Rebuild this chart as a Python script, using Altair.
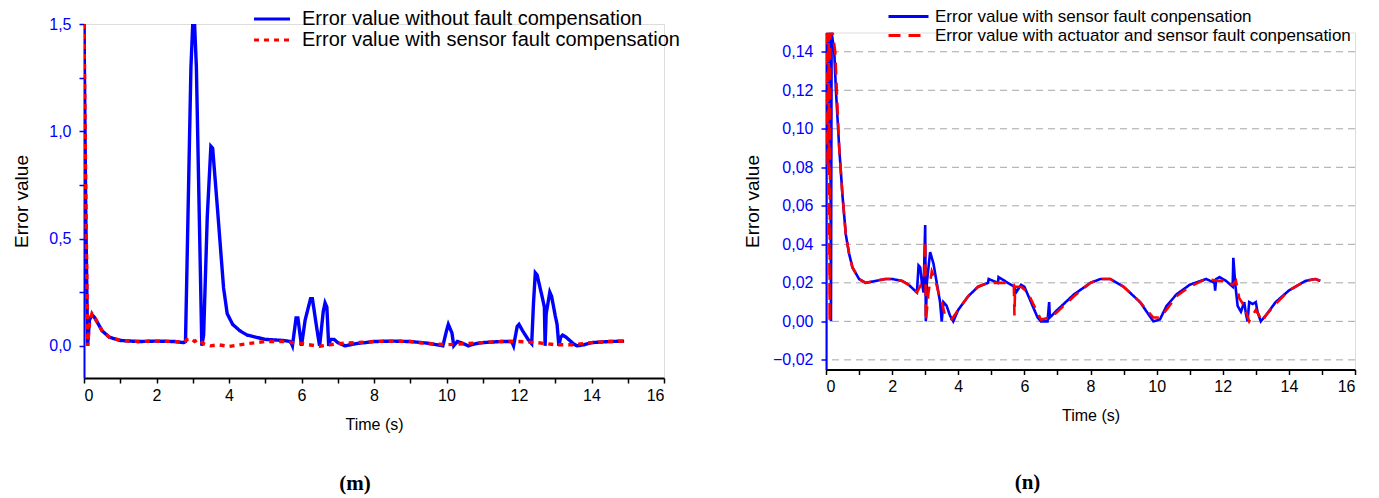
import altair as alt
import pandas as pd

# ---------------- Panel (m) ----------------
m_blue_t = [0.0, 0.05, 0.1, 0.15, 0.22, 0.3, 0.5, 0.7, 1.0, 1.5, 2.0, 2.5, 2.75, 2.8, 2.95, 3.0, 3.05, 3.1, 3.25,
            3.3, 3.4, 3.5, 3.55, 3.7, 3.85, 3.95, 4.1, 4.3, 4.5, 5.0, 5.5, 5.7, 5.75, 5.85, 5.9, 6.0, 6.1, 6.25,
            6.3, 6.45, 6.5, 6.6, 6.65, 6.7, 6.75, 6.8, 6.9, 7.0, 7.2, 7.5, 8.0, 8.5, 9.0, 9.5, 9.9, 10.0, 10.05,
            10.15, 10.2, 10.3, 10.4, 10.6, 10.8, 11.0, 11.5, 11.8, 11.85, 11.95, 12.0, 12.1, 12.25, 12.35, 12.4,
            12.45, 12.5, 12.65, 12.7, 12.72, 12.75, 12.85, 12.9, 13.0, 13.05, 13.1, 13.15, 13.2, 13.3, 13.5, 13.6,
            13.8, 14.0, 14.5, 14.9]
m_blue_v = [1.5, 0.6, 0.0, 0.12, 0.145, 0.13, 0.07, 0.04, 0.025, 0.02, 0.022, 0.02, 0.015, 0.02, 1.3, 1.5, 1.5,
            1.3, 0.0, 0.05, 0.6, 0.93, 0.92, 0.6, 0.27, 0.15, 0.1, 0.07, 0.05, 0.03, 0.025, 0.02, 0.0, 0.13, 0.13,
            0.0, 0.12, 0.22, 0.22, 0.05, 0.0, 0.16, 0.2, 0.18, 0.0, 0.03, 0.03, 0.015, 0.0, 0.01, 0.02, 0.022,
            0.02, 0.012, 0.0, 0.07, 0.1, 0.06, 0.0, 0.02, 0.015, 0.0, 0.01, 0.015, 0.02, 0.02, 0.0, 0.09, 0.1,
            0.07, 0.03, 0.01, 0.2, 0.34, 0.33, 0.22, 0.18, 0.0, 0.15, 0.25, 0.23, 0.14, 0.1, 0.0, 0.04, 0.05,
            0.04, 0.01, 0.0, 0.005, 0.015, 0.02, 0.022]
m_red_t = [0.0, 0.05, 0.1, 0.15, 0.22, 0.3, 0.5, 0.7, 1.0, 1.5, 2.0, 2.5, 2.75, 2.85, 2.95, 3.05, 3.15, 3.3, 3.5,
           3.7, 4.0, 4.5, 5.0, 5.5, 6.0, 6.5, 7.0, 7.5, 8.0, 8.5, 9.0, 9.5, 10.0, 10.5, 11.0, 11.5, 12.0, 12.5,
           13.0, 13.5, 14.0, 14.5, 14.9]
m_red_v = [1.5, 0.7, 0.0, 0.1, 0.15, 0.13, 0.07, 0.04, 0.025, 0.02, 0.022, 0.02, 0.015, 0.03, 0.035, 0.02, 0.03,
           0.01, 0.0, 0.005, -0.003, 0.01, 0.02, 0.02, 0.01, -0.002, 0.01, 0.015, 0.02, 0.022, 0.02, 0.01, 0.005,
           0.01, 0.015, 0.02, 0.02, 0.015, 0.005, 0.005, 0.015, 0.02, 0.022]
m_series = ["Error value without fault compensation", "Error value with sensor fault compensation"]

# ---------------- Panel (n) ----------------
n_blue_t = [0.0, 0.01, 0.04, 0.07, 0.1, 0.13, 0.15, 0.17, 0.25, 0.3, 0.35, 0.4, 0.5, 0.6, 0.7, 0.8, 1.0, 1.2, 1.5,
            1.8, 2.0, 2.3, 2.5, 2.75, 2.8, 2.85, 2.9, 2.95, 3.0, 3.02, 3.05, 3.15, 3.25, 3.35, 3.45, 3.5, 3.55,
            3.65, 3.75, 3.85, 4.0, 4.3, 4.6, 4.9, 4.92, 5.2, 5.22, 5.5, 5.7, 5.75, 5.9, 6.0, 6.2, 6.4, 6.5, 6.7,
            6.75, 6.77, 7.0, 7.5, 8.0, 8.3, 8.6, 9.0, 9.5, 9.9, 10.1, 10.3, 10.6, 11.0, 11.5, 11.75, 11.77, 11.8,
            11.9, 12.1, 12.3, 12.32, 12.38, 12.45, 12.55, 12.65, 12.7, 12.75, 12.8, 12.9, 13.0, 13.05, 13.15,
            13.3, 13.6, 14.0, 14.5, 14.8, 14.95]
n_blue_v = [-0.025, 0.15, 0.09, 0.15, 0.08, 0.15, 0.0, 0.15, 0.14, 0.12, 0.105, 0.09, 0.065, 0.045, 0.035, 0.028,
            0.022, 0.02, 0.021, 0.022, 0.022, 0.021, 0.019, 0.015, 0.029, 0.028, 0.02, 0.015, 0.05, 0.0, 0.02,
            0.036, 0.03, 0.02, 0.01, 0.0, 0.01, 0.008, 0.003, 0.0, 0.006, 0.013, 0.018, 0.02, 0.022, 0.02, 0.023,
            0.02, 0.018, 0.015, 0.019, 0.018, 0.01, 0.002, 0.0, 0.0, 0.01, 0.002, 0.006, 0.014, 0.02, 0.022, 0.022,
            0.018, 0.01, 0.0, 0.001, 0.008, 0.014, 0.019, 0.022, 0.02, 0.016, 0.022, 0.023, 0.021, 0.018, 0.033,
            0.019, 0.008, 0.005, 0.01, 0.004, 0.0, 0.01, 0.009, 0.01, 0.005, 0.0, 0.003, 0.01, 0.016, 0.021, 0.022,
            0.021]
n_red_t = [0.0, 0.05, 0.08, 0.11, 0.13, 0.2, 0.28, 0.35, 0.4, 0.5, 0.6, 0.7, 0.8, 1.0, 1.2, 1.5, 1.8, 2.0, 2.3,
           2.5, 2.75, 2.9, 2.98, 3.0, 3.02, 3.1, 3.2, 3.3, 3.4, 3.5, 3.6, 3.8, 4.0, 4.3, 4.6, 4.9, 5.2, 5.5, 5.68,
           5.7, 5.72, 5.9, 6.1, 6.3, 6.5, 6.8, 7.0, 7.5, 8.0, 8.3, 8.6, 9.0, 9.5, 9.9, 10.1, 10.3, 10.6, 11.0,
           11.5, 11.9, 12.1, 12.3, 12.4, 12.5, 12.65, 12.8, 13.0, 13.2, 13.3, 13.6, 14.0, 14.5, 14.8, 14.95]
n_red_v = [0.15, 0.08, 0.15, 0.0, 0.15, 0.15, 0.14, 0.11, 0.09, 0.065, 0.045, 0.035, 0.028, 0.022, 0.02, 0.021,
           0.022, 0.022, 0.021, 0.019, 0.015, 0.02, 0.025, 0.042, 0.0, 0.015, 0.026, 0.022, 0.015, 0.01, 0.003,
           0.001, 0.006, 0.013, 0.018, 0.02, 0.02, 0.02, 0.019, 0.003, 0.018, 0.018, 0.015, 0.008, 0.001, 0.002,
           0.005, 0.013, 0.02, 0.022, 0.022, 0.018, 0.01, 0.002, 0.002, 0.006, 0.013, 0.018, 0.022, 0.021, 0.021,
           0.019, 0.021, 0.012, 0.008, 0.0, 0.006, 0.0, 0.003, 0.009, 0.016, 0.021, 0.022, 0.021]
n_series = ["Error value with sensor fault conpensation",
            "Error value with actuator and sensor fault conpensation"]
n_grid = [-0.02, 0.0, 0.02, 0.04, 0.06, 0.08, 0.10, 0.12, 0.14]

x_ticks = list(range(0, 17))
m_y_ticks = [0.0, 0.25, 0.5, 0.75, 1.0, 1.25, 1.5]
n_y_ticks = [round(-0.02 + 0.01 * i, 2) for i in range(17)]

BLUE = "#0000ff"
RED = "#ff0000"


def frame(ts, vs, name):
    return pd.DataFrame({"t": ts, "v": vs, "series": name, "idx": range(len(ts))})


m_df = pd.concat([frame(m_blue_t, m_blue_v, m_series[0]), frame(m_red_t, m_red_v, m_series[1])])
n_df = pd.concat([frame(n_blue_t, n_blue_v, n_series[0]), frame(n_red_t, n_red_v, n_series[1])])

x_axis = alt.Axis(values=x_ticks, title="Time (s)", labelExpr="datum.value % 2 == 0 ? datum.label : ''",
                  format="d", grid=False, domainColor="black", domainWidth=2, tickColor="black", tickSize=5,
                  tickWidth=1.5, labelFontSize=16, titleFontSize=16, titleFontWeight="normal", labelColor="black",
                  titlePadding=13, labelPadding=4)


def y_axis(values, fmt, step, title_pad):
    return alt.Axis(values=values, title="Error value",
                    labelExpr=f"abs(round(datum.value/{step})) % 2 == 0 ? replace(format(datum.value, '{fmt}'), '.', ',') : ''",
                    grid=False, domainColor=BLUE, domainWidth=2, tickColor=BLUE, tickSize=5, tickWidth=1.5,
                    labelFontSize=16, labelColor=BLUE, titleFontSize=19, titleFontWeight="normal",
                    titleColor="black", titlePadding=title_pad, labelPadding=8)


def legend(x, y, path, fs, offset, rowpad):
    return alt.Legend(orient="none", legendX=x, legendY=y, title=None, symbolType=path,
                      symbolSize=144, symbolStrokeWidth=3, labelFontSize=fs, labelOffset=offset,
                      rowPadding=rowpad, labelColor="black", labelLimit=0)


m_leg = legend(190, -15, "M-5,0H1", 20, 8, 1)
m_lines = alt.Chart(m_df).mark_line(clip=True, strokeWidth=3.4).encode(
    x=alt.X("t:Q", scale=alt.Scale(domain=[0, 16], nice=False), axis=x_axis),
    y=alt.Y("v:Q", scale=alt.Scale(domain=[-0.15, 1.5], nice=False, zero=False),
            axis=y_axis(m_y_ticks, ".1f", 0.25, 17)),
    color=alt.Color("series:N", scale=alt.Scale(domain=m_series, range=[BLUE, RED]), legend=m_leg),
    strokeDash=alt.StrokeDash("series:N", scale=alt.Scale(domain=m_series, range=[[1, 0], [5, 5]]),
                              legend=m_leg),
    order="idx:Q",
)

left = m_lines.properties(
    width=580, height=354,
    title=alt.TitleParams("(m)", orient="bottom", font="Liberation Serif", fontSize=21, fontWeight="bold",
                          offset=41, frame="group", dx=-19, color="black"),
)

n_leg = legend(88, -24.5, "M-5.667,0H1", 17, 4, 1)
n_grid_df = pd.DataFrame({"g": n_grid})
n_gridlines = alt.Chart(n_grid_df).mark_rule(color="#a6a6a6", strokeDash=[7, 5], strokeWidth=1).encode(
    y=alt.Y("g:Q")
)
n_lines = alt.Chart(n_df).mark_line(clip=True, strokeWidth=2.6).encode(
    x=alt.X("t:Q", scale=alt.Scale(domain=[0, 16], nice=False), axis=x_axis),
    y=alt.Y("v:Q", scale=alt.Scale(domain=[-0.025, 0.15], nice=False, zero=False),
            axis=y_axis(n_y_ticks, ".2f", 0.01, 10)),
    color=alt.Color("series:N", scale=alt.Scale(domain=n_series, range=[BLUE, RED]), legend=n_leg),
    strokeDash=alt.StrokeDash("series:N", scale=alt.Scale(domain=n_series, range=[[1, 0], [12, 8]]),
                              legend=n_leg),
    order="idx:Q",
)
right = alt.layer(n_gridlines, n_lines).properties(
    width=529, height=337,
    title=alt.TitleParams("(n)", orient="bottom", font="Liberation Serif", fontSize=21, fontWeight="bold",
                          offset=48, frame="group", dx=-63, color="black"),
)

chart = alt.hconcat(left, right, spacing=162, bounds="flush", center=True).resolve_scale(
    color="independent", strokeDash="independent", x="independent", y="independent"
).resolve_legend(color="independent", strokeDash="independent").configure_view(
    stroke=None
).configure(font="Liberation Sans").properties(padding={"left": 4, "top": -1, "right": 0, "bottom": 0})

chart.save("out.html", embed_options={"renderer": "svg", "actions": False})
